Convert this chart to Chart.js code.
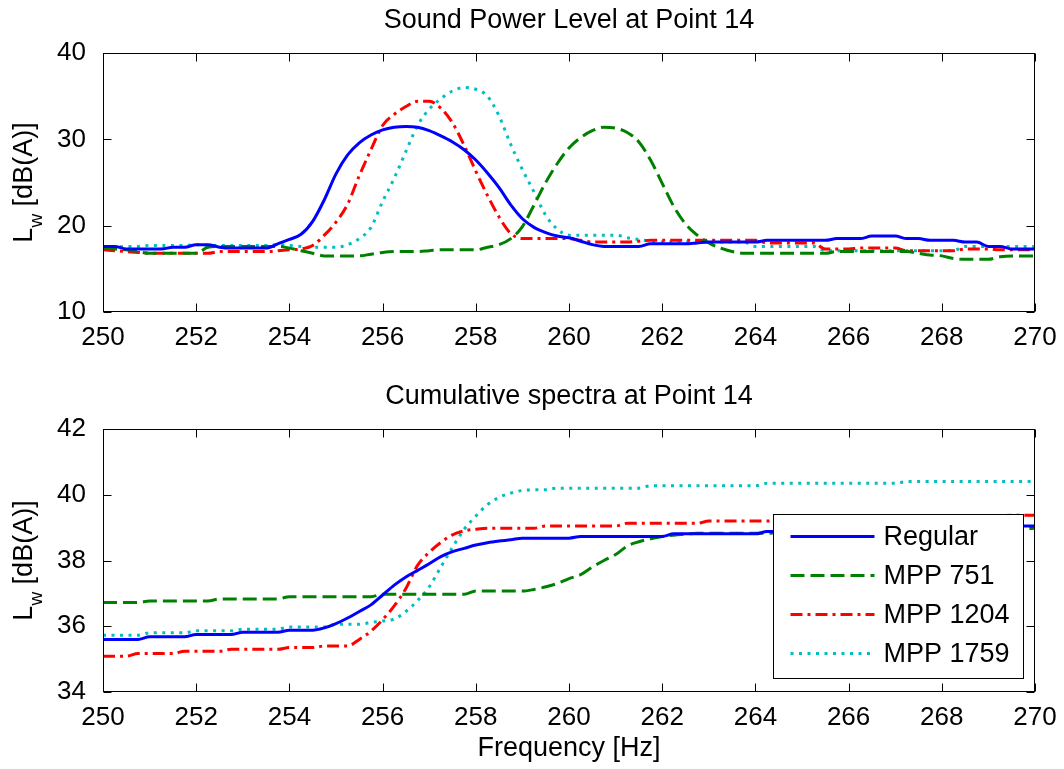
<!DOCTYPE html>
<html>
<head>
<meta charset="utf-8">
<script src="https://cdn.jsdelivr.net/npm/chart.js@4.4.1/dist/chart.umd.min.js"></script>
<style>
  body { margin: 0; background: #fff; }
  #wrap { position: relative; width: 1064px; height: 769px; }
  canvas { position: absolute; left: 0; }
</style>
</head>
<body>
<div id="wrap">
  <canvas id="power-chart" width="1064" height="376" style="top:0"></canvas>
  <canvas id="cumulative-chart" width="1064" height="393" style="top:376px"></canvas>
</div>
<script>
// frequency grid shared by both plots (Hz)
var freq = [
  250, 250.25, 250.5, 250.75, 251, 251.25, 251.5, 251.75,
  252, 252.25, 252.5, 252.75, 253, 253.25, 253.5, 253.75,
  254, 254.25, 254.5, 254.75, 255, 255.25, 255.5, 255.75,
  256, 256.25, 256.5, 256.75, 257, 257.25, 257.5, 257.75,
  258, 258.25, 258.5, 258.75, 259, 259.25, 259.5, 259.75,
  260, 260.25, 260.5, 260.75, 261, 261.25, 261.5, 261.75,
  262, 262.25, 262.5, 262.75, 263, 263.25, 263.5, 263.75,
  264, 264.25, 264.5, 264.75, 265, 265.25, 265.5, 265.75,
  266, 266.25, 266.5, 266.75, 267, 267.25, 267.5, 267.75,
  268, 268.25, 268.5, 268.75, 269, 269.25, 269.5, 269.75,
  270
];

var seriesNames = ["Regular", "MPP 751", "MPP 1204", "MPP 1759"];

// top plot: sound power level, dB(A)
var regularLw = [
  17.6, 17.6, 17.3, 17.3, 17.3, 17.3, 17.5, 17.5,
  17.8, 17.8, 17.5, 17.4, 17.4, 17.4, 17.4, 17.9,
  18.4, 19.0, 20.5, 23.0, 26.0, 28.2, 29.6, 30.5,
  31.1, 31.4, 31.5, 31.4, 31.0, 30.4, 29.7, 28.8,
  27.6, 26.1, 24.4, 22.4, 20.8, 19.8, 19.2, 18.8,
  18.6, 18.2, 17.8, 17.6, 17.6, 17.6, 17.6, 17.9,
  17.9, 17.9, 17.9, 18.0, 18.1, 18.1, 18.1, 18.1,
  18.1, 18.3, 18.3, 18.3, 18.3, 18.3, 18.3, 18.5,
  18.5, 18.5, 18.8, 18.8, 18.8, 18.5, 18.5, 18.3,
  18.3, 18.3, 18.1, 18.1, 17.6, 17.6, 17.3, 17.3,
  17.3
];
var mpp751Lw = [
  17.4, 17.3, 17.2, 17.0, 16.8, 16.8, 16.8, 16.8,
  16.8, 17.5, 17.6, 17.6, 17.6, 17.6, 17.6, 17.6,
  17.4, 17.1, 16.8, 16.5, 16.5, 16.5, 16.5, 16.7,
  16.9, 17.0, 17.0, 17.0, 17.1, 17.2, 17.2, 17.2,
  17.2, 17.5, 17.8, 18.5, 19.9, 22.4, 25.0, 27.2,
  29.0, 30.2, 31.0, 31.4, 31.3, 30.8, 29.7, 27.6,
  24.9, 22.2, 20.2, 18.9, 18.0, 17.4, 17.0, 16.8,
  16.8, 16.8, 16.8, 16.8, 16.8, 16.8, 16.8, 17.0,
  17.0, 17.0, 17.0, 17.0, 17.0, 17.0, 16.8, 16.6,
  16.5, 16.2, 16.1, 16.1, 16.1, 16.4, 16.5, 16.5,
  16.5
];
var mpp1204Lw = [
  17.2, 17.1, 17.0, 16.9, 16.8, 16.8, 16.8, 16.8,
  16.8, 16.8, 17.0, 17.0, 17.0, 17.0, 17.0, 17.1,
  17.2, 17.3, 17.7, 18.9, 20.4, 22.5, 25.8, 28.8,
  31.6, 32.9, 33.8, 34.4, 34.4, 33.6, 31.9, 29.3,
  26.3, 23.5, 21.0, 19.1, 18.5, 18.5, 18.5, 18.5,
  18.5, 18.3, 18.1, 18.1, 18.1, 18.1, 18.2, 18.3,
  18.3, 18.3, 18.3, 18.3, 18.3, 18.3, 18.3, 18.3,
  18.3, 18.0, 18.0, 18.0, 18.0, 18.0, 17.3, 17.3,
  17.3, 17.4, 17.4, 17.4, 17.4, 17.1, 17.1, 17.1,
  17.1, 17.1, 17.3, 17.3, 17.3, 17.2, 17.2, 17.2,
  17.2
];
var mpp1759Lw = [
  17.6, 17.5, 17.6, 17.6, 17.7, 17.7, 17.7, 17.7,
  17.8, 17.7, 17.7, 17.7, 17.7, 17.7, 17.7, 17.8,
  17.7, 17.6, 17.5, 17.5, 17.5, 17.8, 18.5, 19.8,
  22.8, 25.5, 28.6, 31.6, 33.5, 34.7, 35.6, 36.0,
  35.8, 35.0, 32.7, 29.4, 26.5, 23.9, 21.2, 19.6,
  18.9, 18.9, 18.9, 18.9, 18.9, 18.6, 18.4, 18.2,
  18.1, 18.1, 18.1, 18.1, 18.1, 18.1, 18.1, 18.1,
  17.6, 17.6, 17.6, 17.6, 17.6, 17.6, 17.1, 17.1,
  17.1, 17.1, 17.1, 17.1, 17.1, 17.1, 17.1, 17.1,
  17.1, 17.1, 17.6, 17.6, 17.6, 17.6, 17.6, 17.6,
  17.6
];

// bottom plot: cumulative spectra, dB(A)
var regularCum = [
  35.6, 35.6, 35.6, 35.6, 35.68, 35.68, 35.68, 35.68,
  35.75, 35.75, 35.75, 35.75, 35.82, 35.82, 35.82, 35.82,
  35.88, 35.88, 35.88, 35.95, 36.08, 36.25, 36.45, 36.65,
  36.95, 37.25, 37.5, 37.7, 37.9, 38.12, 38.27, 38.37,
  38.47, 38.54, 38.59, 38.63, 38.68, 38.68, 38.68, 38.68,
  38.68, 38.73, 38.73, 38.73, 38.73, 38.73, 38.73, 38.73,
  38.73, 38.81, 38.81, 38.81, 38.81, 38.81, 38.81, 38.81,
  38.81, 38.88, 38.88, 38.88, 38.9, 38.9, 38.9, 38.9,
  38.93, 38.93, 38.93, 38.93, 38.96, 38.96, 38.96, 38.96,
  39.0, 39.0, 39.0, 39.0, 39.02, 39.02, 39.05, 39.05,
  39.05
];
var mpp751Cum = [
  36.72, 36.72, 36.72, 36.72, 36.77, 36.77, 36.77, 36.77,
  36.77, 36.77, 36.83, 36.83, 36.83, 36.83, 36.83, 36.83,
  36.9, 36.9, 36.9, 36.9, 36.9, 36.9, 36.9, 36.9,
  36.97, 36.97, 36.97, 36.97, 36.97, 36.97, 36.97, 36.97,
  37.07, 37.07, 37.07, 37.07, 37.07, 37.12, 37.2, 37.3,
  37.45, 37.57, 37.8, 38.0, 38.18, 38.44, 38.57, 38.66,
  38.73, 38.77, 38.8, 38.83, 38.83, 38.83, 38.83, 38.83,
  38.83, 38.83, 38.85, 38.85, 38.85, 38.85, 38.88, 38.88,
  38.88, 38.88, 38.88, 38.88, 38.9, 38.9, 38.9, 38.9,
  38.93, 38.93, 38.93, 38.93, 38.95, 38.95, 38.97, 38.97,
  38.98
];
var mpp1204Cum = [
  35.09, 35.09, 35.09, 35.17, 35.17, 35.17, 35.17, 35.24,
  35.24, 35.24, 35.24, 35.3, 35.3, 35.3, 35.3, 35.3,
  35.35, 35.35, 35.35, 35.4, 35.4, 35.4, 35.6, 35.85,
  36.2, 36.62, 37.15, 37.85, 38.25, 38.55, 38.78, 38.9,
  38.95, 38.98, 38.98, 38.98, 38.98, 38.98, 39.05, 39.05,
  39.05, 39.05, 39.05, 39.05, 39.05, 39.13, 39.13, 39.13,
  39.13, 39.13, 39.13, 39.13, 39.2, 39.2, 39.2, 39.2,
  39.2, 39.2, 39.22, 39.22, 39.22, 39.22, 39.25, 39.25,
  39.25, 39.25, 39.28, 39.28, 39.3, 39.3, 39.3, 39.3,
  39.33, 39.33, 39.33, 39.33, 39.36, 39.36, 39.38, 39.38,
  39.38
];
var mpp1759Cum = [
  35.73, 35.73, 35.73, 35.73, 35.8, 35.8, 35.8, 35.8,
  35.86, 35.86, 35.86, 35.86, 35.91, 35.91, 35.91, 35.91,
  35.98, 35.98, 35.98, 35.98, 36.06, 36.06, 36.06, 36.12,
  36.16, 36.22, 36.45, 36.78, 37.2, 37.8, 38.4, 38.95,
  39.35, 39.7, 39.92, 40.05, 40.13, 40.15, 40.15, 40.2,
  40.2, 40.2, 40.2, 40.2, 40.2, 40.2, 40.2, 40.27,
  40.27, 40.27, 40.27, 40.27, 40.27, 40.27, 40.27, 40.27,
  40.27, 40.35, 40.35, 40.35, 40.35, 40.35, 40.35, 40.35,
  40.35, 40.35, 40.35, 40.35, 40.35, 40.4, 40.4, 40.4,
  40.4, 40.4, 40.4, 40.4, 40.4, 40.4, 40.4, 40.4,
  40.4
];

var FONT = "'Liberation Sans', Arial, Helvetica, sans-serif";
var colors = ["#0000ff", "#008000", "#ff0000", "#00bfbf"];
var dashes = [[], [14, 6], [12, 5, 3, 5], [3, 5.5]];

Chart.defaults.font.family = FONT;
Chart.defaults.color = "#000";

function makeDatasets(seriesList) {
  return seriesList.map(function (vals, i) {
    return {
      label: seriesNames[i],
      data: freq.map(function (f, k) { return { x: f, y: vals[k] }; }),
      borderColor: colors[i],
      backgroundColor: colors[i],
      borderWidth: 3,
      borderDash: dashes[i],
      borderCapStyle: "butt",
      pointRadius: 0,
      cubicInterpolationMode: "monotone",
      fill: false,
    };
  });
}

// MATLAB-like box, inward ticks, title, y label and legend
var matlabAxes = {
  id: "matlabAxes",
  afterDraw: function (chart, args, opts) {
    var ctx = chart.ctx, a = chart.chartArea;
    var xs = chart.scales.x, ys = chart.scales.y;
    var L = Math.round(a.left) + 0.5, R = Math.round(a.right) - 0.5;
    var T = Math.round(a.top) + 0.5, B = Math.round(a.bottom) - 0.5;
    ctx.save();
    ctx.strokeStyle = "#000";
    ctx.lineWidth = 1;
    ctx.setLineDash([]);
    ctx.strokeRect(L, T, R - L, B - T);
    ctx.beginPath();
    xs.ticks.forEach(function (t) {
      var px = Math.round(xs.getPixelForValue(t.value)) + 0.5;
      ctx.moveTo(px, B); ctx.lineTo(px, B - 8);
      ctx.moveTo(px, T); ctx.lineTo(px, T + 8);
    });
    ys.ticks.forEach(function (t) {
      var py = Math.round(ys.getPixelForValue(t.value)) + 0.5;
      ctx.moveTo(L, py); ctx.lineTo(L + 8, py);
      ctx.moveTo(R, py); ctx.lineTo(R - 8, py);
    });
    ctx.stroke();

    // title
    ctx.fillStyle = "#000";
    ctx.font = "27px " + FONT;
    ctx.textAlign = "center";
    ctx.textBaseline = "middle";
    ctx.fillText(opts.title, (a.left + a.right) / 2, a.top - 32);

    // y label: L_w [dB(A)]
    ctx.save();
    ctx.translate(32, (a.top + a.bottom) / 2);
    ctx.rotate(-Math.PI / 2);
    ctx.textAlign = "left";
    ctx.textBaseline = "alphabetic";
    var big = "27px " + FONT, small = "19px " + FONT;
    ctx.font = big;
    var wL = ctx.measureText("L").width;
    var wRest = ctx.measureText(" [dB(A)]").width;
    ctx.font = small;
    var wSub = ctx.measureText("w").width;
    var x0 = -(wL + wSub + wRest) / 2;
    ctx.font = big;
    ctx.fillText("L", x0, 0);
    ctx.font = small;
    ctx.fillText("w", x0 + wL, 10);
    ctx.font = big;
    ctx.fillText(" [dB(A)]", x0 + wL + wSub, 0);
    ctx.restore();

    if (opts.legend) {
      var bw = 250, bh = 164;
      var bx = Math.round(a.right) - 12 - bw + 0.5;
      var by = Math.round(a.bottom) - 14 - bh + 0.5;
      ctx.fillStyle = "#fff";
      ctx.fillRect(bx, by, bw, bh);
      ctx.strokeStyle = "#000";
      ctx.lineWidth = 1;
      ctx.strokeRect(bx, by, bw, bh);
      chart.data.datasets.forEach(function (ds, i) {
        var yy = by + 22 + i * 39;
        ctx.beginPath();
        ctx.strokeStyle = ds.borderColor;
        ctx.lineWidth = ds.borderWidth;
        ctx.lineCap = "butt";
        ctx.setLineDash(ds.borderDash);
        ctx.moveTo(bx + 17, yy);
        ctx.lineTo(bx + 101, yy);
        ctx.stroke();
        ctx.setLineDash([]);
        ctx.fillStyle = "#000";
        ctx.font = "27px " + FONT;
        ctx.textAlign = "left";
        ctx.textBaseline = "middle";
        ctx.fillText(ds.label, bx + 110, yy + 1);
      });
    }
    ctx.restore();
  },
};

function makeOptions(yMin, yMax, yStep, xHeight, title, legend, xTitle) {
  return {
    responsive: false,
    animation: false,
    devicePixelRatio: 1,
    layout: { padding: { left: 0, right: 29, top: 53, bottom: 0 } },
    plugins: {
      legend: { display: false },
      tooltip: { enabled: false },
      matlabAxes: { title: title, legend: legend },
    },
    scales: {
      x: {
        type: "linear",
        min: 250,
        max: 270,
        grid: { display: false },
        border: { display: false },
        ticks: { stepSize: 2, autoSkip: false, maxRotation: 0, padding: 2, font: { size: 26 } },
        title: {
          display: !!xTitle,
          text: xTitle || "",
          font: { size: 27 },
          padding: { top: 0, bottom: 4 },
        },
        afterFit: function (scale) { scale.height = xHeight; },
      },
      y: {
        min: yMin,
        max: yMax,
        grid: { display: false },
        border: { display: false },
        ticks: { stepSize: yStep, padding: 9, font: { size: 26 } },
        afterFit: function (scale) { scale.width = 103; },
      },
    },
  };
}

new Chart(document.getElementById("power-chart").getContext("2d"), {
  type: "line",
  data: { datasets: makeDatasets([regularLw, mpp751Lw, mpp1204Lw, mpp1759Lw]) },
  options: makeOptions(10, 40, 10, 64, "Sound Power Level at Point 14", false, null),
  plugins: [matlabAxes],
});

new Chart(document.getElementById("cumulative-chart").getContext("2d"), {
  type: "line",
  data: { datasets: makeDatasets([regularCum, mpp751Cum, mpp1204Cum, mpp1759Cum]) },
  options: makeOptions(34, 42, 2, 77, "Cumulative spectra at Point 14", true, "Frequency [Hz]"),
  plugins: [matlabAxes],
});
</script>
</body>
</html>
